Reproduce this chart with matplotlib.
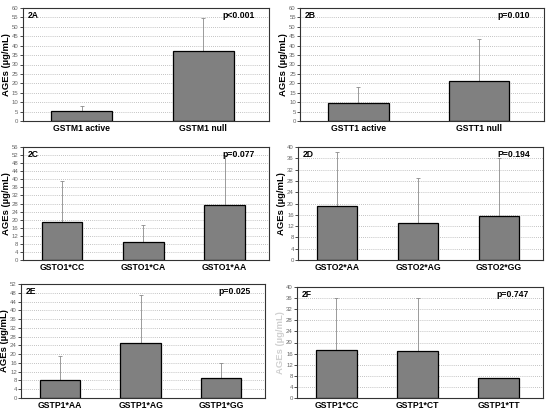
import matplotlib
matplotlib.use('Agg')
import matplotlib.pyplot as plt

plt.rcParams['font.family'] = ['Liberation Sans', 'DejaVu Sans']

# panel data: genotype labels, mean AGEs, upper error bar top
labels_a = ['GSTM1 active', 'GSTM1 null']
means_a = [5.3, 37.0]
tops_a = [7.7, 54.7]

labels_b = ['GSTT1 active', 'GSTT1 null']
means_b = [9.4, 21.5]
tops_b = [18.3, 43.6]

labels_c = ['GSTO1*CC', 'GSTO1*CA', 'GSTO1*AA']
means_c = [19.0, 8.9, 27.4]
tops_c = [39.3, 17.1, 52.2]

labels_d = ['GSTO2*AA', 'GSTO2*AG', 'GSTO2*GG']
means_d = [19.0, 13.1, 15.4]
tops_d = [38.2, 29.1, 36.1]

labels_e = ['GSTP1*AA', 'GSTP1*AG', 'GSTP1*GG']
means_e = [8.4, 24.9, 9.3]
tops_e = [19.1, 47.1, 16.1]

labels_f = ['GSTP1*CC', 'GSTP1*CT', 'GSTP1*TT']
means_f = [17.2, 16.9, 7.3]
tops_f = [36.0, 36.2, 7.3]

W, H = 550, 413
fig = plt.figure(figsize=(W / 100, H / 100), dpi=100)


def rect(l, r, t, b):
    return [l / W, (H - b) / H, (r - l) / W, (b - t) / H]


def panel(box, tag, labels, means, tops, ymax, ystep, ptext, px=0.81, ylab_color='black'):
    ax = fig.add_axes(rect(*box))
    n = len(labels)
    xs = list(range(n))
    ax.set_axisbelow(True)
    ax.yaxis.grid(True, linestyle=(0, (1, 1.5)), color='#b0b0b0', lw=0.6)
    ax.bar(xs, means, width=0.5, color='#808080', edgecolor='black', lw=0.9, zorder=2)
    errs = [t - m for t, m in zip(tops, means)]
    ax.errorbar(xs, means, yerr=[[0] * n, errs], fmt='none', ecolor='#8a8a8a',
                elinewidth=0.6, capsize=1.5, capthick=0.6, zorder=1)
    if n == 2:
        ax.set_xlim(-0.485, 1.54)
    else:
        ax.set_xlim(-0.485, 2.545)
    ax.set_ylim(0, ymax)
    ax.set_yticks(range(0, ymax + 1, ystep))
    ax.set_xticks(xs)
    ax.set_xticklabels(labels, fontsize=6.2, fontweight='bold')
    ax.tick_params(axis='y', labelsize=4.3, labelcolor='#666666', length=2, width=0.5, pad=1)
    ax.tick_params(axis='x', length=0, pad=2)
    for s in ax.spines.values():
        s.set_linewidth(0.8)
        s.set_color('#333333')
    ax.set_ylabel('AGEs (\u00b5g/mL)', fontsize=6.8, fontweight='bold', color=ylab_color)
    ax.yaxis.set_label_coords(-12.0 / (box[1] - box[0]), 0.5)
    ax.text(0.02, 0.97, tag, transform=ax.transAxes, fontsize=6.2, fontweight='bold', va='top')
    ax.text(px, 0.97, ptext, transform=ax.transAxes, fontsize=6.2, fontweight='bold', va='top')
    return ax


panel((22.7, 269, 8, 121), '2A', labels_a, means_a, tops_a, 60, 5, 'p<0.001')
panel((300, 544, 8, 121), '2B', labels_b, means_b, tops_b, 60, 5, 'p=0.010')
panel((22.7, 269, 147, 260), '2C', labels_c, means_c, tops_c, 56, 4, 'p=0.077')
panel((298, 543, 147, 260), '2D', labels_d, means_d, tops_d, 40, 4, 'P=0.194', px=0.815)
panel((21, 265, 284, 398), '2E', labels_e, means_e, tops_e, 52, 4, 'p=0.025')
panel((297, 543, 287, 398), '2F', labels_f, means_f, tops_f, 40, 4, 'p=0.747', ylab_color='#d0d0d0')

fig.savefig('out.png', dpi=100)
